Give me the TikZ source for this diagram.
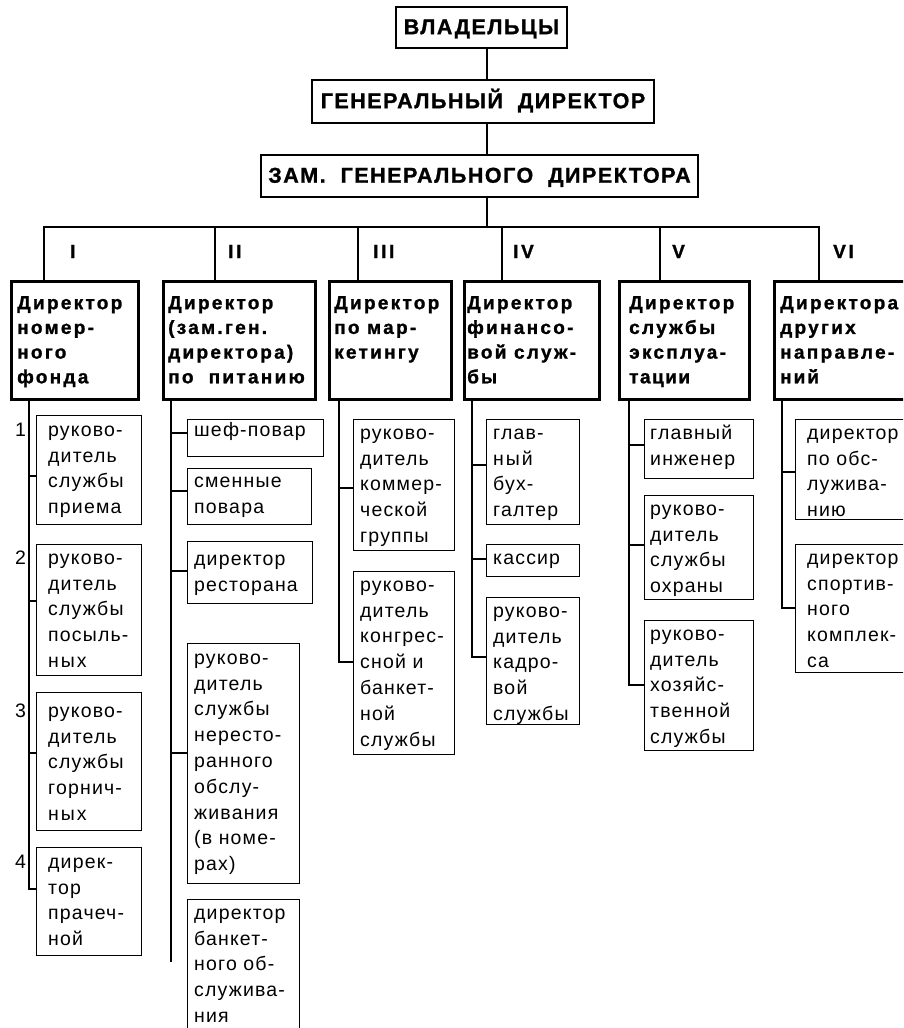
\documentclass[tikz,border=0pt]{standalone}
\usepackage{fontspec}
\setmainfont{Liberation Sans}
\newfontfamily\hdfont[LetterSpace=7, BoldFeatures={FakeBold=1.2}]{Liberation Sans}
\newfontfamily\drfont[LetterSpace=12, BoldFeatures={FakeBold=1.2}]{Liberation Sans}
\newfontfamily\sbfont[LetterSpace=6]{Liberation Sans}
\newfontfamily\rmnfont[LetterSpace=14, BoldFeatures={FakeBold=1.2}]{Liberation Sans}
\newcommand\fl[1]{\rule{0pt}{#1pt}}
\begin{document}
\begin{tikzpicture}[x=1pt,y=-1pt,
  topbox/.style={draw, line width=2.4pt, inner sep=0pt, text height=15.4pt, text depth=2pt, font=\hdfont\bfseries\fontsize{21.5}{25}\selectfont},
  dirbox/.style={draw, line width=2.6pt, anchor=north west, inner sep=0pt, minimum height=118pt},
  dirtext/.style={anchor=north west, inner sep=0pt, align=left, font=\drfont\bfseries\fontsize{19}{24.7}\selectfont},
  subbox/.style={draw, line width=1.1pt, anchor=north west, inner sep=0pt},
  subtext/.style={anchor=north west, inner sep=0pt, align=left, font=\sbfont\fontsize{19.5}{25.8}\selectfont},
  numlab/.style={anchor=base west, inner sep=0pt, font=\sbfont\fontsize{19.5}{24}\selectfont},
  romlab/.style={anchor=base west, inner sep=0pt, font=\rmnfont\bfseries\fontsize{19}{22}\selectfont},
  trunk/.style={line width=2.3pt},
  twig/.style={line width=1.1pt},
]
\useasboundingbox (0,0) rectangle (903,1028);
\clip (0,0) rectangle (903,1028);

% top hierarchy
\node[topbox, minimum width=171pt, minimum height=41pt] (own) at (481.5,27.5) {ВЛАДЕЛЬЦЫ};
\node[topbox, minimum width=342pt, minimum height=43pt] (gdir) at (483,101.5) {ГЕНЕРАЛЬНЫЙ~~ДИРЕКТОР};
\node[topbox, minimum width=437pt, minimum height=42pt] (zam) at (479.5,176) {ЗАМ.~~ГЕНЕРАЛЬНОГО~~ДИРЕКТОРА};

\coordinate (spine) at (487,227);
\draw[trunk] (own.south -| spine) -- (gdir.north -| spine);
\draw[trunk] (gdir.south -| spine) -- (zam.north -| spine);
\draw[trunk] (zam.south -| spine) -- (spine);

% director boxes
\node[dirbox, minimum width=127pt] (d1) at (10,280) {};
\node[dirbox, minimum width=152pt] (d2) at (162,280) {};
\node[dirbox, minimum width=122pt] (d3) at (328,280) {};
\node[dirbox, minimum width=135pt] (d4) at (463,280) {};
\node[dirbox, minimum width=130pt] (d5) at (618,280) {};
\node[dirbox, minimum width=150pt] (d6) at (773,280) {};

\node[dirtext] (d1t) at ([xshift=7pt]d1.north west) {\fl{29}Директор\\номер-\\ного\\фонда};
\node[dirtext] (d2t) at ([xshift=6pt]d2.north west) {\fl{29}Директор\\(зам.ген.\\директора)\\по~~питанию};
\node[dirtext] (d3t) at ([xshift=6pt]d3.north west) {\fl{29}Директор\\по мар-\\кетингу};
\node[dirtext] (d4t) at ([xshift=4pt]d4.north west) {\fl{29}Директор\\финансо-\\вой служ-\\б\kern2pt ы};
\node[dirtext] (d5t) at ([xshift=11pt]d5.north west) {\fl{29}Директор\\службы\\эксплуа-\\т\kern1.5pt а\kern1.5pt ц\kern1.5pt и\kern1.5pt и};
\node[dirtext] (d6t) at ([xshift=7pt]d6.north west) {\fl{29}Директора\\других\\направле-\\н\kern2pt и\kern2pt й};

% bus and drops
\coordinate (p1) at (44,227);
\coordinate (p2) at (215,227);
\coordinate (p3) at (358,227);
\coordinate (p4) at (502,227);
\coordinate (p5) at (660,227);
\coordinate (p6) at (819,227);
\draw[trunk] (p1 |- d1.north) -- (p1) -- (p6) -- (p6 |- d6.north);
\draw[trunk] (p2) -- (p2 |- d2.north);
\draw[trunk] (p3) -- (p3 |- d3.north);
\draw[trunk] (p4) -- (p4 |- d4.north);
\draw[trunk] (p5) -- (p5 |- d5.north);

\node[romlab] (r1) at (70,258) {I};
\node[romlab] (r2) at (228,258) {II};
\node[romlab] (r3) at (373,258) {III};
\node[romlab] (r4) at (513,258) {IV};
\node[romlab] (r5) at (672,258) {V};
\node[romlab] (r6) at (833,258) {VI};

% column I
\node[subbox, minimum width=105pt, minimum height=109pt] (s11) at (36,415) {};
\node[subbox, minimum width=105pt, minimum height=131pt] (s12) at (36,544) {};
\node[subbox, minimum width=105pt, minimum height=138pt] (s13) at (36,692) {};
\node[subbox, minimum width=105pt, minimum height=108pt] (s14) at (36,847) {};
\node[subtext] (s11t) at ([xshift=12pt]s11.north west) {\fl{21}руково-\\дитель\\службы\\приема};
\node[subtext] (s12t) at ([xshift=12pt]s12.north west) {\fl{20}руково-\\дитель\\службы\\посыль-\\н\kern2pt ы\kern2pt х};
\node[subtext] (s13t) at ([xshift=12pt]s13.north west) {\fl{25}руково-\\дитель\\службы\\горнич-\\н\kern2pt ы\kern2pt х};
\node[subtext] (s14t) at ([xshift=12pt]s14.north west) {\fl{21}дирек-\\тор\\прачеч-\\ной};
\node[numlab] (n1) at (15,436) {1};
\node[numlab] (n2) at (15,564) {2};
\node[numlab] (n3) at (15,717) {3};
\node[numlab] (n4) at (15,868) {4};
\coordinate (k11) at (29,476);
\coordinate (k12) at (29,601);
\coordinate (k13) at (29,753);
\coordinate (k14) at (29,889);
\draw[twig] (d1.south -| k11) |- (k14 -| s14.west);
\draw[twig] (k11) -- (k11 -| s11.west);
\draw[twig] (k12) -- (k12 -| s12.west);
\draw[twig] (k13) -- (k13 -| s13.west);

% column II
\node[subbox, minimum width=136pt, minimum height=37pt] (s21) at (187,419) {};
\node[subbox, minimum width=124pt, minimum height=56pt] (s22) at (187,468) {};
\node[subbox, minimum width=125pt, minimum height=62pt] (s23) at (187,541) {};
\node[subbox, minimum width=112pt, minimum height=240pt] (s24) at (187,643) {};
\node[subbox, minimum width=112pt, minimum height=150pt] (s25) at (187,899) {};
\node[subtext] (s21t) at ([xshift=7pt]s21.north west) {\fl{17}шеф-повар};
\node[subtext] (s22t) at ([xshift=7pt]s22.north west) {\fl{19}сменные\\повара};
\node[subtext] (s23t) at ([xshift=7pt]s23.north west) {\fl{24}директор\\ресторана};
\node[subtext] (s24t) at ([xshift=7pt]s24.north west) {\fl{21}руково-\\дитель\\службы\\нересто-\\ранного\\обслу-\\живания\\(в~номе-\\рах)};
\node[subtext] (s25t) at ([xshift=7pt]s25.north west) {\fl{20}директор\\банкет-\\ного об-\\служива-\\ния};
\coordinate (k21) at (171,433);
\coordinate (k22) at (171,491);
\coordinate (k23) at (171,571);
\coordinate (k24) at (171,753);
\coordinate (k2end) at (171,962);
\draw[twig] (d2.south -| k21) -- (k2end);
\draw[twig] (k21) -- (k21 -| s21.west);
\draw[twig] (k22) -- (k22 -| s22.west);
\draw[twig] (k23) -- (k23 -| s23.west);
\draw[twig] (k24) -- (k24 -| s24.west);

% column III
\node[subbox, minimum width=101pt, minimum height=131pt] (s31) at (353,419) {};
\node[subbox, minimum width=101pt, minimum height=183pt] (s32) at (353,571) {};
\node[subtext] (s31t) at ([xshift=7pt]s31.north west) {\fl{20}руково-\\дитель\\коммер-\\ческой\\группы};
\node[subtext] (s32t) at ([xshift=7pt]s32.north west) {\fl{20}руково-\\дитель\\конгрес-\\сной и\\банкет-\\ной\\службы};
\coordinate (k31) at (339,488);
\coordinate (k32) at (339,662);
\draw[twig] (d3.south -| k31) |- (k32 -| s32.west);
\draw[twig] (k31) -- (k31 -| s31.west);

% column IV
\node[subbox, minimum width=93pt, minimum height=105pt] (s41) at (486,419) {};
\node[subbox, minimum width=93pt, minimum height=32pt] (s42) at (486,544) {};
\node[subbox, minimum width=93pt, minimum height=127pt] (s43) at (486,597) {};
\node[subtext] (s41t) at ([xshift=7pt]s41.north west) {\fl{20}глав-\\н\kern2pt ы\kern2pt й\\бух-\\галтер};
\node[subtext] (s42t) at ([xshift=7pt]s42.north west) {\fl{20}кассир};
\node[subtext] (s43t) at ([xshift=7pt]s43.north west) {\fl{20}руково-\\дитель\\кадро-\\вой\\службы};
\coordinate (k41) at (472,465);
\coordinate (k42) at (472,559);
\coordinate (k43) at (472,657);
\draw[twig] (d4.south -| k41) |- (k43 -| s43.west);
\draw[twig] (k41) -- (k41 -| s41.west);
\draw[twig] (k42) -- (k42 -| s42.west);

% column V
\node[subbox, minimum width=109pt, minimum height=59pt] (s51) at (644,419) {};
\node[subbox, minimum width=109pt, minimum height=104pt] (s52) at (644,495) {};
\node[subbox, minimum width=109pt, minimum height=130pt] (s53) at (644,620) {};
\node[subtext] (s51t) at ([xshift=6pt]s51.north west) {\fl{20}главный\\инженер};
\node[subtext] (s52t) at ([xshift=6pt]s52.north west) {\fl{20}руково-\\дитель\\службы\\охраны};
\node[subtext] (s53t) at ([xshift=6pt]s53.north west) {\fl{20}руково-\\дитель\\хозяйс-\\твенной\\службы};
\coordinate (k51) at (629,445);
\coordinate (k52) at (629,545);
\coordinate (k53) at (629,685);
\draw[twig] (d5.south -| k51) |- (k53 -| s53.west);
\draw[twig] (k51) -- (k51 -| s51.west);
\draw[twig] (k52) -- (k52 -| s52.west);

% column VI
\node[subbox, minimum width=130pt, minimum height=100pt] (s61) at (795,419) {};
\node[subbox, minimum width=130pt, minimum height=128pt] (s62) at (795,544) {};
\node[subtext] (s61t) at ([xshift=12pt]s61.north west) {\fl{20}директор\\по обс-\\лужива-\\нию};
\node[subtext] (s62t) at ([xshift=12pt]s62.north west) {\fl{20}директор\\спортив-\\ного\\комплек-\\са};
\coordinate (k61) at (782,472);
\coordinate (k62) at (782,608);
\draw[twig] (d6.south -| k61) |- (k62 -| s62.west);
\draw[twig] (k61) -- (k61 -| s61.west);
\end{tikzpicture}
\end{document}
